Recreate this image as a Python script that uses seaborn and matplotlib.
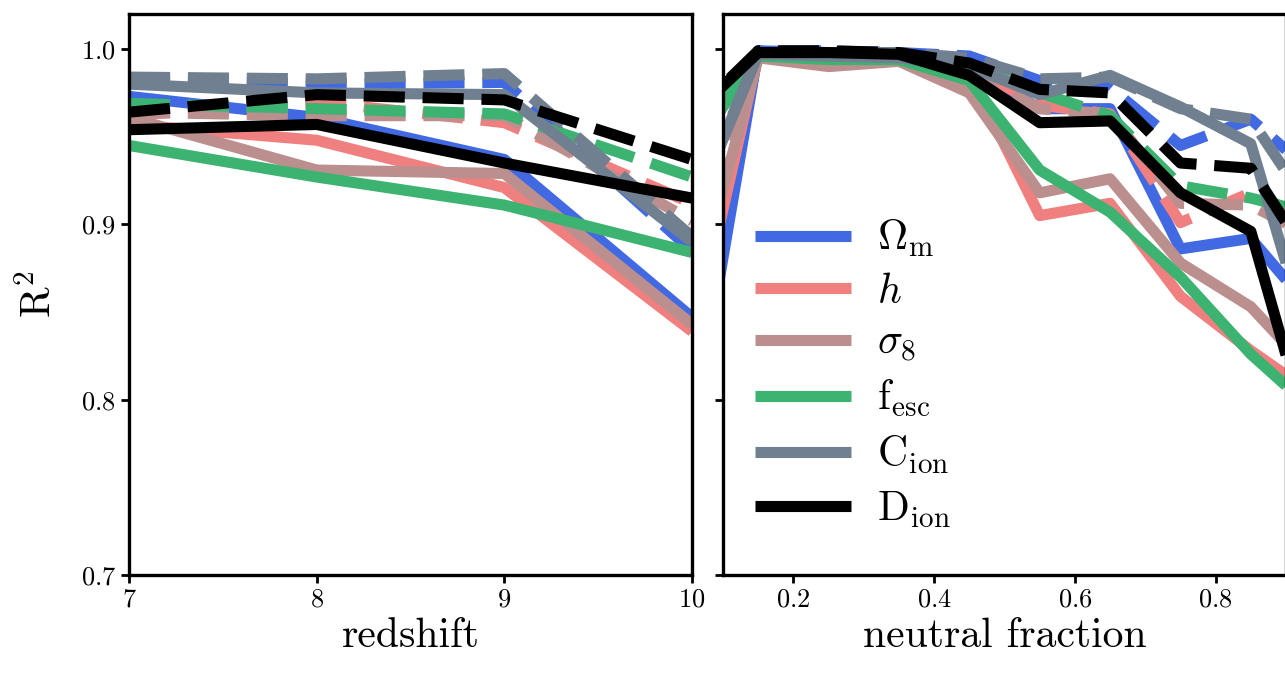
import matplotlib
matplotlib.use("Agg")
import matplotlib.pyplot as plt
from matplotlib.lines import Line2D
import seaborn as sns
import pandas as pd

params = ["Om", "h", "s8", "fesc", "Cion", "Dion"]
labels = [r"$\Omega_{\rm m}$", r"$h$", r"$\sigma_8$", r"$\rm f_{esc}$",
          r"$\rm C_{ion}$", r"$\rm D_{ion}$"]
colors = ["royalblue", "lightcoral", "rosybrown", "mediumseagreen", "slategray", "black"]

# left panel: R^2 vs redshift
redshift = [7, 8, 9, 10]
z_solid = {
    "Om":   [0.973, 0.961, 0.937, 0.847],
    "h":    [0.957, 0.948, 0.921, 0.839],
    "s8":   [0.961, 0.931, 0.929, 0.843],
    "fesc": [0.945, 0.927, 0.911, 0.884],
    "Cion": [0.980, 0.975, 0.974, 0.890],
    "Dion": [0.954, 0.957, 0.935, 0.915],
}
z_dashed = {
    "Om":   [0.982, 0.980, 0.981, 0.885],
    "h":    [0.962, 0.970, 0.958, 0.912],
    "s8":   [0.964, 0.962, 0.962, 0.902],
    "fesc": [0.969, 0.966, 0.963, 0.927],
    "Cion": [0.984, 0.983, 0.986, 0.893],
    "Dion": [0.964, 0.974, 0.971, 0.937],
}

# right panel: R^2 vs neutral fraction
xhi = [0.05, 0.15, 0.25, 0.35, 0.45, 0.55, 0.65, 0.75, 0.85, 0.95]
x_solid = {
    "Om":   [0.763, 0.999, 0.998, 0.997, 0.990, 0.966, 0.966, 0.886, 0.892, 0.845],
    "h":    [0.820, 0.997, 0.996, 0.995, 0.986, 0.905, 0.912, 0.859, 0.828, 0.800],
    "s8":   [0.845, 0.995, 0.990, 0.993, 0.975, 0.918, 0.926, 0.878, 0.853, 0.810],
    "fesc": [0.938, 0.996, 0.994, 0.994, 0.982, 0.931, 0.907, 0.870, 0.826, 0.790],
    "Cion": [0.900, 0.997, 0.996, 0.995, 0.990, 0.974, 0.985, 0.967, 0.946, 0.810],
    "Dion": [0.960, 0.998, 0.998, 0.997, 0.985, 0.958, 0.959, 0.918, 0.896, 0.755],
}
x_dashed = {
    "Om":   [0.780, 0.999, 0.999, 0.998, 0.996, 0.982, 0.978, 0.945, 0.960, 0.925],
    "h":    [0.830, 0.998, 0.997, 0.996, 0.990, 0.968, 0.963, 0.901, 0.918, 0.900],
    "s8":   [0.850, 0.997, 0.995, 0.995, 0.988, 0.966, 0.963, 0.912, 0.911, 0.890],
    "fesc": [0.940, 0.997, 0.996, 0.995, 0.990, 0.975, 0.962, 0.922, 0.915, 0.905],
    "Cion": [0.900, 0.998, 0.998, 0.998, 0.995, 0.983, 0.984, 0.966, 0.960, 0.900],
    "Dion": [0.960, 0.999, 0.999, 0.998, 0.992, 0.977, 0.975, 0.935, 0.932, 0.870],
}


def to_long(xs, solid, dashed):
    rows = []
    for p in params:
        for kind, d in (("solid", solid), ("dashed", dashed)):
            for x, y in zip(xs, d[p]):
                rows.append({"x": x, "r2": y, "param": p, "kind": kind})
    return pd.DataFrame(rows)


df_z = to_long(redshift, z_solid, z_dashed)
df_x = to_long(xhi, x_solid, x_dashed)

sns.set_style("ticks")
plt.rcParams["font.family"] = ["cmr10", "DejaVu Serif"]
plt.rcParams["mathtext.fontset"] = "cm"
plt.rcParams["axes.formatter.use_mathtext"] = True
plt.rcParams["axes.unicode_minus"] = False
plt.rcParams["lines.solid_capstyle"] = "butt"
plt.rcParams["lines.dash_capstyle"] = "butt"
plt.rcParams["axes.edgecolor"] = "black"
plt.rcParams["xtick.color"] = "black"
plt.rcParams["ytick.color"] = "black"
plt.rcParams["text.color"] = "black"
plt.rcParams["axes.labelcolor"] = "black"

fig = plt.figure(figsize=(12.85, 6.75), dpi=100)
ax1 = fig.add_axes([129 / 1285, 1 - 575 / 675, 563 / 1285, 561 / 675])
ax2 = fig.add_axes([723 / 1285, 1 - 575 / 675, 563 / 1285, 561 / 675], sharey=ax1)

pal = dict(zip(params, colors))
dash = {"solid": "", "dashed": (3.7, 1.6)}
for ax, df in ((ax1, df_z), (ax2, df_x)):
    sns.lineplot(data=df, x="x", y="r2", hue="param", style="kind",
                 hue_order=params, style_order=["solid", "dashed"],
                 palette=pal, dashes=dash, linewidth=8, errorbar=None,
                 legend=False, ax=ax)
    for s in ax.spines.values():
        s.set_linewidth(2.4)
    ax.tick_params(direction="out", length=6, width=2, labelsize=19)
    ax.set_ylabel("")

ax1.set_xlim(7, 10)
ax1.set_ylim(0.7, 1.02)
ax1.set_xticks([7, 8, 9, 10])
ax1.set_yticks([0.7, 0.8, 0.9, 1.0])
ax1.set_xlabel("redshift", fontsize=30)
ax1.set_ylabel(r"$\rm R^2$", fontsize=30, labelpad=16)

ax2.set_xlim(0.1, 0.9)
ax2.set_xticks([0.2, 0.4, 0.6, 0.8])
ax2.tick_params(labelleft=False)
ax2.set_xlabel("neutral fraction", fontsize=30)

handles = [Line2D([], [], color=c, lw=8, solid_capstyle="butt") for c in colors]
ax2.legend(handles, labels, frameon=False, fontsize=30, loc="lower left",
           bbox_to_anchor=(0.028, 0.05), borderaxespad=0, handlelength=2.3,
           handletextpad=0.62, labelspacing=0.34)

fig.savefig("out.png", dpi=100)
